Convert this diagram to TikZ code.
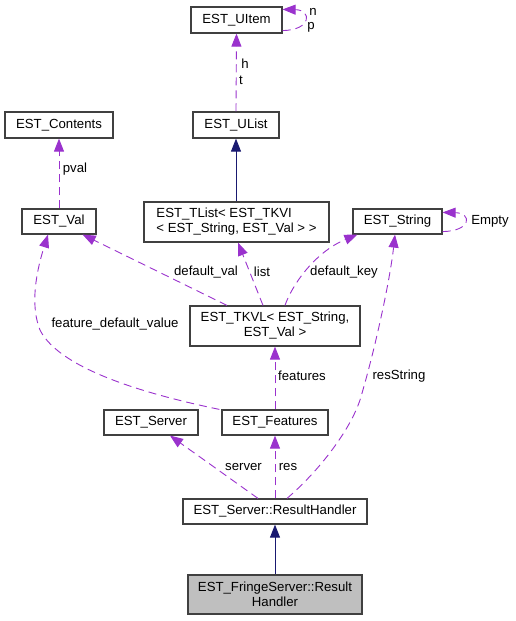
\documentclass[tikz,border=0pt]{standalone}
\usepackage{fontspec}
\setmainfont{Liberation Sans}
\usetikzlibrary{arrows.meta}
\definecolor{dorchid}{RGB}{154,50,205}
\definecolor{navyblue}{RGB}{25,25,112}
\definecolor{boxgray}{RGB}{64,64,64}
\definecolor{fillgray}{RGB}{191,191,191}
\newcommand{\diafont}{\fontsize{13.2}{15}\selectfont}
\tikzset{
  box/.style={draw=boxgray, fill=white, line width=1.2pt, inner sep=0pt, minimum height=25pt, font=\diafont},
  dep/.style={draw=dorchid, dash pattern=on 8pt off 5pt, line width=0.9pt, -{Triangle[length=13pt,width=10pt]}},
  inh/.style={draw=navyblue, line width=0.9pt, -{Triangle[length=13pt,width=10pt]}},
  lbl/.style={font=\diafont, inner sep=0pt, text=black}
}
\begin{document}
\begin{tikzpicture}[x=1pt,y=-1pt]
\useasboundingbox (0,0) rectangle (515,621);
% nodes
\node[box, minimum width=91pt, minimum height=26pt] (uitem) at (236.5,20) {EST\_UItem};
\node[box, minimum width=108pt, minimum height=26pt] (contents) at (59,125) {EST\_Contents};
\node[box, minimum width=86pt, minimum height=26pt] (ulist) at (236,125) {EST\_UList};
\node[box, minimum width=74pt] (val) at (59,221.5) {EST\_Val};
\node[box, minimum width=185pt, minimum height=40pt, align=left] (tlist) at (236.5,222) {EST\_TList< EST\_TKVI\\< EST\_String, EST\_Val > >};
\node[box, minimum width=89pt] (string) at (397.5,221.5) {EST\_String};
\node[box, minimum width=170pt, minimum height=40pt, align=center] (tkvl) at (275,326) {EST\_TKVL< EST\_String,\\EST\_Val >};
\node[box, minimum width=94pt] (server) at (151,422.5) {EST\_Server};
\node[box, minimum width=106pt] (features) at (275,422.5) {EST\_Features};
\node[box, minimum width=184pt] (rh) at (275,511.5) {EST\_Server::ResultHandler};
\node[box, fill=fillgray, minimum width=174pt, minimum height=39pt, align=center] (fringe) at (275,594.5) {EST\_FringeServer::Result\\Handler};
% edges
\draw[dep] ([yshift=3pt]uitem.south east) .. controls (312,30) and (312,10) .. ([yshift=-3pt]uitem.north east);
\node[lbl] (ln) at (313,12) {n};
\node[lbl] (lp) at (311,27) {p};
\draw[dep] (ulist.north) -- (uitem.south);
\node[lbl] (lh) at (245,64) {h};
\node[lbl] (lt) at (241,80) {t};
\draw[inh] (tlist.north -| ulist.south) -- (ulist.south);
\draw[dep] (val.north) -- (contents.south);
\node[lbl] (lpval) at (75,169) {pval};
\draw[dep] ([yshift=3pt]string.south east) .. controls (472,231) and (472,213) .. ([yshift=-4pt]string.north east);
\node[lbl] (lempty) at (490,221) {Empty};
\draw[dep] ([xshift=-48pt]tkvl.north) -- ([xshift=-14pt]val.south east);
\node[lbl] (ldefval) at (206,272) {default\_val};
\draw[dep] ([xshift=-12pt]tkvl.north) -- ([xshift=1.5pt]tlist.south);
\node[lbl] (llist) at (262,272) {list};
\draw[dep] ([xshift=10pt]tkvl.north) .. controls (292,285) and (315,252) .. ([xshift=5pt]string.south west);
\node[lbl] (ldefkey) at (344,272) {default\_key};
\draw[dep] ([xshift=-2pt]features.north west) .. controls (150,395) and (60,370) .. (40,330) .. controls (28,300) and (40,260) .. ([xshift=-11pt]val.south);
\node[lbl] (lfdv) at (115,324) {feature\_default\_value};
\draw[dep] (features.north) -- (tkvl.south);
\node[lbl] (lfeatures) at (302,376) {features};
\draw[dep] ([xshift=12pt]rh.north) .. controls (320,470) and (350,430) .. (360,400) .. controls (375,350) and (390,280) .. ([xshift=-2.5pt]string.south);
\node[lbl] (lresstring) at (399,376) {resString};
\draw[dep] ([xshift=-17pt]rh.north) -- ([xshift=19pt]server.south);
\node[lbl] (lserver) at (243.5,467) {server};
\draw[dep] (rh.north) -- (features.south);
\node[lbl] (lres) at (288,467) {res};
\draw[inh] (fringe.north) -- (rh.south);
\end{tikzpicture}
\end{document}
